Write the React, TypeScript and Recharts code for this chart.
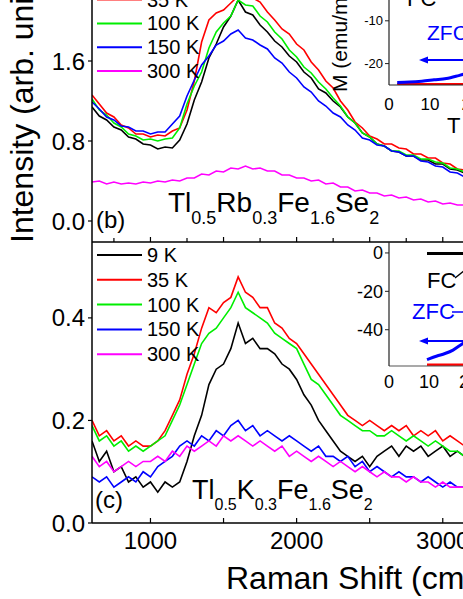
import { LineChart, Line, XAxis, YAxis } from 'recharts';

// Raman shift grid (cm-1)
const ramanShift = [
  600, 650, 700, 750, 800, 850, 900, 950, 1000, 1050,
  1100, 1150, 1200, 1250, 1300, 1350, 1400, 1450, 1500, 1550,
  1600, 1650, 1700, 1750, 1800, 1850, 1900, 1950, 2000, 2050,
  2100, 2150, 2200, 2250, 2300, 2350, 2400, 2450, 2500, 2550,
  2600, 2650, 2700, 2750, 2800, 2850, 2900, 2950, 3000, 3050,
  3100, 3150,
];

// panel (b) Tl0.5Rb0.3Fe1.6Se2
const rb9K = [
  1.14, 1.05, 1.01, 0.94, 0.91, 0.84, 0.82, 0.77, 0.76, 0.72,
  0.74, 0.73, 0.81, 0.97, 1.21, 1.39, 1.63, 1.77, 1.94, 2.05,
  2.21, 2.09, 2.06, 1.96, 1.89, 1.80, 1.74, 1.65, 1.59, 1.49,
  1.43, 1.32, 1.28, 1.20, 1.14, 1.04, 0.98, 0.88, 0.84, 0.77,
  0.75, 0.70, 0.69, 0.65, 0.65, 0.61, 0.61, 0.57, 0.57, 0.52,
  0.51, 0.48,
];
const rb35K = [
  1.26, 1.17, 1.08, 1.04, 0.96, 0.93, 0.87, 0.87, 0.84, 0.86,
  0.85, 0.90, 0.93, 1.11, 1.40, 1.79, 2.01, 2.08, 2.11, 2.18,
  2.25, 2.29, 2.23, 2.19, 2.09, 2.01, 1.92, 1.87, 1.77, 1.71,
  1.59, 1.51, 1.40, 1.33, 1.20, 1.11, 0.99, 0.93, 0.85, 0.82,
  0.77, 0.77, 0.73, 0.72, 0.67, 0.67, 0.63, 0.63, 0.58, 0.57,
  0.52, 0.51,
];
const rb100K = [
  1.22, 1.11, 1.06, 0.98, 0.94, 0.87, 0.85, 0.81, 0.82, 0.80,
  0.82, 0.83, 0.93, 1.17, 1.35, 1.49, 1.73, 1.89, 1.98, 2.05,
  2.21, 2.16, 2.15, 2.05, 1.99, 1.89, 1.82, 1.71, 1.64, 1.54,
  1.48, 1.39, 1.32, 1.23, 1.15, 1.04, 0.98, 0.88, 0.84, 0.77,
  0.75, 0.70, 0.70, 0.66, 0.66, 0.62, 0.62, 0.59, 0.58, 0.53,
  0.52, 0.49,
];
const rb150K = [
  1.19, 1.12, 1.04, 1.01, 0.95, 0.94, 0.90, 0.90, 0.87, 0.89,
  0.89, 0.97, 1.05, 1.25, 1.41, 1.56, 1.65, 1.76, 1.80, 1.87,
  1.91, 1.83, 1.81, 1.76, 1.72, 1.63, 1.58, 1.49, 1.43, 1.34,
  1.29, 1.20, 1.15, 1.08, 1.04, 0.96, 0.91, 0.83, 0.81, 0.76,
  0.75, 0.70, 0.69, 0.65, 0.65, 0.60, 0.59, 0.55, 0.54, 0.49,
  0.48, 0.44,
];
const rb300K = [
  0.39, 0.40, 0.37, 0.39, 0.37, 0.38, 0.37, 0.39, 0.38, 0.40,
  0.39, 0.41, 0.40, 0.43, 0.43, 0.47, 0.46, 0.50, 0.49, 0.53,
  0.52, 0.55, 0.52, 0.53, 0.50, 0.50, 0.46, 0.46, 0.43, 0.43,
  0.40, 0.41, 0.37, 0.38, 0.34, 0.34, 0.30, 0.31, 0.28, 0.28,
  0.25, 0.26, 0.23, 0.24, 0.21, 0.22, 0.19, 0.20, 0.17, 0.18,
  0.16, 0.16,
];

// panel (c) Tl0.5K0.3Fe1.6Se2
const k9K = [
  0.16, 0.12, 0.14, 0.10, 0.11, 0.08, 0.09, 0.07, 0.08, 0.06,
  0.08, 0.07, 0.08, 0.12, 0.17, 0.21, 0.27, 0.30, 0.31, 0.34,
  0.39, 0.35, 0.36, 0.34, 0.34, 0.33, 0.31, 0.30, 0.28, 0.25,
  0.23, 0.20, 0.18, 0.16, 0.14, 0.13, 0.12, 0.13, 0.11, 0.13,
  0.14, 0.15, 0.13, 0.15, 0.14, 0.15, 0.13, 0.14, 0.15, 0.13,
  0.14, 0.13,
];
const k35K = [
  0.20, 0.17, 0.18, 0.16, 0.17, 0.15, 0.16, 0.15, 0.15, 0.16,
  0.18, 0.21, 0.24, 0.29, 0.33, 0.38, 0.42, 0.41, 0.43, 0.44,
  0.48, 0.45, 0.44, 0.42, 0.42, 0.39, 0.38, 0.36, 0.35, 0.33,
  0.31, 0.29, 0.27, 0.25, 0.23, 0.21, 0.20, 0.19, 0.20, 0.19,
  0.18, 0.19, 0.18, 0.19, 0.17, 0.18, 0.17, 0.18, 0.16, 0.17,
  0.16, 0.15,
];
const k100K = [
  0.19, 0.16, 0.17, 0.15, 0.16, 0.14, 0.15, 0.14, 0.15, 0.16,
  0.17, 0.20, 0.23, 0.27, 0.31, 0.35, 0.37, 0.38, 0.40, 0.42,
  0.45, 0.42, 0.41, 0.40, 0.39, 0.37, 0.36, 0.35, 0.34, 0.31,
  0.28, 0.27, 0.25, 0.23, 0.21, 0.20, 0.19, 0.18, 0.18, 0.17,
  0.17, 0.18, 0.17, 0.16, 0.17, 0.16, 0.15, 0.16, 0.15, 0.14,
  0.14, 0.13,
];
const k150K = [
  0.09, 0.08, 0.09, 0.07, 0.08, 0.09, 0.08, 0.10, 0.09, 0.11,
  0.12, 0.13, 0.15, 0.16, 0.15, 0.17, 0.16, 0.18, 0.17, 0.19,
  0.20, 0.18, 0.19, 0.17, 0.18, 0.17, 0.16, 0.17, 0.16, 0.15,
  0.14, 0.15, 0.13, 0.13, 0.12, 0.13, 0.11, 0.12, 0.10, 0.11,
  0.10, 0.09, 0.10, 0.09, 0.09, 0.08, 0.09, 0.08, 0.07, 0.08,
  0.07, 0.07,
];
const k300K = [
  0.13, 0.11, 0.12, 0.10, 0.11, 0.12, 0.11, 0.12, 0.12, 0.13,
  0.12, 0.14, 0.13, 0.15, 0.14, 0.15, 0.16, 0.15, 0.17, 0.16,
  0.17, 0.16, 0.15, 0.16, 0.15, 0.14, 0.15, 0.13, 0.14, 0.13,
  0.12, 0.13, 0.12, 0.11, 0.12, 0.11, 0.10, 0.11, 0.10, 0.09,
  0.10, 0.09, 0.09, 0.08, 0.09, 0.08, 0.08, 0.07, 0.08, 0.07,
  0.07, 0.07,
];

// inset magnetisation curves
const rbInsetT = [2, 5, 8, 11, 14, 17, 20];
const rbInsetZfc = [-24.4, -24.3, -24.1, -23.8, -23.5, -22.8, -22.0];
const rbInsetRed = [-24.8, -24.8, -24.8, -24.8, -24.8, -24.8, -24.8];

const kInsetT = [9.5, 10, 12, 14, 16, 18, 20];
const kInsetFc = [-0.3, -0.3, -0.3, -0.3, -0.3, -0.3, -0.3];
const kInsetZfc = [-55.6, -55.2, -53.7, -52.4, -50.6, -47.8, -45.0];
const kInsetRed = [-58.4, -58.4, -58.4, -58.4, -58.4, -58.4, -58.4];

const temps = ['9 K', '35 K', '100 K', '150 K', '300 K'];
const colors = ['#000000', '#ff0000', '#00ee00', '#0000ff', '#ff00ff'];
const keys = ['t9', 't35', 't100', 't150', 't300'];

const rbRows = ramanShift.map((x, i) => ({
  x, t9: rb9K[i], t35: rb35K[i], t100: rb100K[i], t150: rb150K[i], t300: rb300K[i],
}));
const kRows = ramanShift.map((x, i) => ({
  x, t9: k9K[i], t35: k35K[i], t100: k100K[i], t150: k150K[i], t300: k300K[i],
}));
const rbInsetRows = rbInsetT.map((t, i) => ({ t, zfc: rbInsetZfc[i], red: rbInsetRed[i] }));
const kInsetRows = kInsetT.map((t, i) => ({ t, fc: kInsetFc[i], zfc: kInsetZfc[i], red: kInsetRed[i] }));

const topTicks = [750, 1000, 1250, 1500, 1750, 2000, 2250, 2500, 2750, 3000];
const bottomTicks = [1000, 1500, 2000, 2500, 3000];

const FONT = '"Liberation Sans", Arial, sans-serif';

// x ticks pointing into the plot, labels only on thousands
const InTick = (props: any) => {
  const { x, y, payload, labels } = props;
  const v = payload.value;
  const len = v % 500 === 0 ? 5 : 4;
  return (
    <g>
      <line x1={x} x2={x} y1={y} y2={y - len} stroke="#000" strokeWidth={1.2} />
      {labels && v % 1000 === 0 && (
        <text x={x} y={y + 26} textAnchor="middle" fontSize={24} fill="#000" fontFamily={FONT}>
          {v}
        </text>
      )}
    </g>
  );
};

const axisLine = { stroke: '#000', strokeWidth: 1.5 };

function Legend({ y0, step }: { y0: number; step: number }) {
  return (
    <g>
      {temps.map((t, i) => (
        <g key={t}>
          <line x1={97} x2={142} y1={y0 + i * step} y2={y0 + i * step} stroke={colors[i]} strokeWidth={2} />
          <text x={147} y={y0 + i * step + 7} fontSize={20} fill="#000">{t}</text>
        </g>
      ))}
    </g>
  );
}

export default function App() {
  return (
    <div style={{ position: 'absolute', left: 0, top: 0, width: 463, height: 599, overflow: 'hidden', background: '#fff', fontFamily: FONT }}>
      {/* panel (b) */}
      <div style={{ position: 'absolute', left: 0, top: -3 }}>
        <LineChart width={472} height={247} data={rbRows} margin={{ top: 0, right: 0, bottom: 0, left: 0 }}>
          <XAxis type="number" dataKey="x" domain={[600, 3200]} ticks={topTicks} interval={0} allowDataOverflow
            height={2} axisLine={axisLine} tickLine={false} tickSize={0} tickMargin={0}
            tick={(p: any) => <InTick {...p} labels={false} />} />
          <YAxis type="number" domain={[-0.21, 2.24]} ticks={[0, 0.8, 1.6]} interval={0} allowDataOverflow width={92}
            axisLine={axisLine} tickLine={{ stroke: '#000', strokeWidth: 1.2 }} tickSize={4} tickMargin={3}
            tick={{ fontSize: 24, fill: '#000' }} tickFormatter={(v: number) => v.toFixed(1)} />
          {keys.map((k, i) => (
            <Line key={k} type="linear" dataKey={k} stroke={colors[i]} strokeWidth={1.6} dot={false} isAnimationActive={false} />
          ))}
        </LineChart>
      </div>

      {/* panel (c) */}
      <div style={{ position: 'absolute', left: 0, top: 242 }}>
        <LineChart width={472} height={316} data={kRows} margin={{ top: 0, right: 0, bottom: 0, left: 0 }}>
          <XAxis type="number" dataKey="x" domain={[600, 3200]} ticks={bottomTicks} interval={0} allowDataOverflow
            height={35} axisLine={axisLine} tickLine={false} tickSize={0} tickMargin={0}
            tick={(p: any) => <InTick {...p} labels />} />
          <YAxis type="number" domain={[0, 0.548]} ticks={[0, 0.2, 0.4]} interval={0} allowDataOverflow width={92}
            axisLine={axisLine} tickLine={{ stroke: '#000', strokeWidth: 1.2 }} tickSize={4} tickMargin={3}
            tick={{ fontSize: 24, fill: '#000' }} tickFormatter={(v: number) => v.toFixed(1)} />
          {keys.map((k, i) => (
            <Line key={k} type="linear" dataKey={k} stroke={colors[i]} strokeWidth={1.6} dot={false} isAnimationActive={false} />
          ))}
        </LineChart>
      </div>

      {/* inset of (b) */}
      <div style={{ position: 'absolute', left: 349, top: -22 }}>
        <LineChart width={204} height={137} data={rbInsetRows} margin={{ top: 0, right: 0, bottom: 0, left: 0 }}>
          <XAxis type="number" dataKey="t" domain={[0, 40]} ticks={[0, 10, 20, 30, 40]} interval={0} height={30}
            axisLine={{ stroke: '#222', strokeWidth: 1.2 }} tickLine={false} tickMargin={7}
            tick={{ fontSize: 17, fill: '#000' }} />
          <YAxis type="number" domain={[-25, 0]} ticks={[-20, -10]} interval={0} allowDataOverflow width={40}
            axisLine={{ stroke: '#222', strokeWidth: 1.2 }} tickLine={{ stroke: '#222' }} tickSize={4} tickMargin={2}
            tick={{ fontSize: 13, fill: '#000' }} />
          <Line type="monotone" dataKey="red" stroke="#ff0000" strokeWidth={2.5} dot={false} isAnimationActive={false} />
          <Line type="monotone" dataKey="zfc" stroke="#0000ff" strokeWidth={3} dot={false} isAnimationActive={false} />
        </LineChart>
      </div>

      {/* inset of (c) */}
      <div style={{ position: 'absolute', left: 349, top: 242 }}>
        <LineChart width={200} height={154} data={kInsetRows} margin={{ top: 0, right: 0, bottom: 0, left: 0 }}>
          <XAxis type="number" dataKey="t" domain={[0, 40]} ticks={[0, 10, 20, 30, 40]} interval={0} height={30}
            axisLine={{ stroke: '#555', strokeWidth: 1.2 }} tickLine={false} tickMargin={3}
            tick={{ fontSize: 18, fill: '#000' }} />
          <YAxis type="number" domain={[-58.9, 5.7]} ticks={[-40, -20, 0]} interval={0} allowDataOverflow width={40}
            axisLine={{ stroke: '#222', strokeWidth: 1.2 }} tickLine={{ stroke: '#222' }} tickSize={4} tickMargin={2}
            tick={{ fontSize: 18, fill: '#000' }} />
          <Line type="monotone" dataKey="fc" stroke="#000000" strokeWidth={3} dot={false} isAnimationActive={false} />
          <Line type="monotone" dataKey="red" stroke="#ff0000" strokeWidth={3} dot={false} isAnimationActive={false} />
          <Line type="monotone" dataKey="zfc" stroke="#0000ff" strokeWidth={3} dot={false} isAnimationActive={false} />
        </LineChart>
      </div>

      {/* labels and annotations */}
      <svg width={463} height={599} style={{ position: 'absolute', left: 0, top: 0, pointerEvents: 'none' }} fontFamily={FONT}>
        <text transform="translate(33,243) rotate(-90)" fontSize={32} fill="#000">Intensity (arb. units)</text>
        <text x={226} y={589} fontSize={32} fill="#000">
          Raman Shift (cm<tspan dy={-12} fontSize={20}>-1</tspan><tspan dy={12}>)</tspan>
        </text>

        <Legend y0={-24.2} step={23.8} />
        <Legend y0={255} step={24.8} />

        <text x={96} y={228} fontSize={24} fill="#000">(b)</text>
        <text x={95} y={508} fontSize={24} fill="#000">(c)</text>

        <text x={168} y={212} fontSize={28} fill="#000">
          Tl<tspan dy={12} fontSize={18}>0.5</tspan><tspan dy={-12}>Rb</tspan>
          <tspan dy={12} fontSize={18}>0.3</tspan><tspan dy={-12}>Fe</tspan>
          <tspan dy={12} fontSize={18}>1.6</tspan><tspan dy={-12}>Se</tspan>
          <tspan dy={12} fontSize={18}>2</tspan>
        </text>
        <text x={192} y={499} fontSize={27} fill="#000">
          Tl<tspan dy={11} fontSize={16}>0.5</tspan><tspan dy={-11}>K</tspan>
          <tspan dy={11} fontSize={16}>0.3</tspan><tspan dy={-11}>Fe</tspan>
          <tspan dy={11} fontSize={16}>1.6</tspan><tspan dy={-11}>Se</tspan>
          <tspan dy={11} fontSize={16}>2</tspan>
        </text>

        {/* inset (b) annotations */}
        <text transform="translate(347,92) rotate(-90)" fontSize={21} fill="#000">M (emu/mol)</text>
        <text x={447} y={133} fontSize={22} fill="#000">T (K)</text>
        <text x={407} y={6} fontSize={22} fill="#000">FC</text>
        <text x={427} y={40} fontSize={21} fill="#0000ff">ZFC</text>
        <line x1={426} x2={470} y1={60} y2={60} stroke="#0000ff" strokeWidth={2} />
        <polygon points="419,60 428,56.5 428,63.5" fill="#0000ff" />

        {/* inset (c) annotations */}
        <text x={427} y={288} fontSize={22} fill="#000">FC</text>
        <line x1={455} x2={465} y1={278} y2={270} stroke="#000" strokeWidth={1.5} />
        <text x={412} y={319} fontSize={22} fill="#0000ff">ZFC</text>
        <line x1={452} x2={465} y1={312} y2={312} stroke="#0000ff" strokeWidth={1.5} />
        <line x1={426} x2={470} y1={341} y2={341} stroke="#0000ff" strokeWidth={2} />
        <polygon points="419,341 428,337.5 428,344.5" fill="#0000ff" />
      </svg>
    </div>
  );
}
